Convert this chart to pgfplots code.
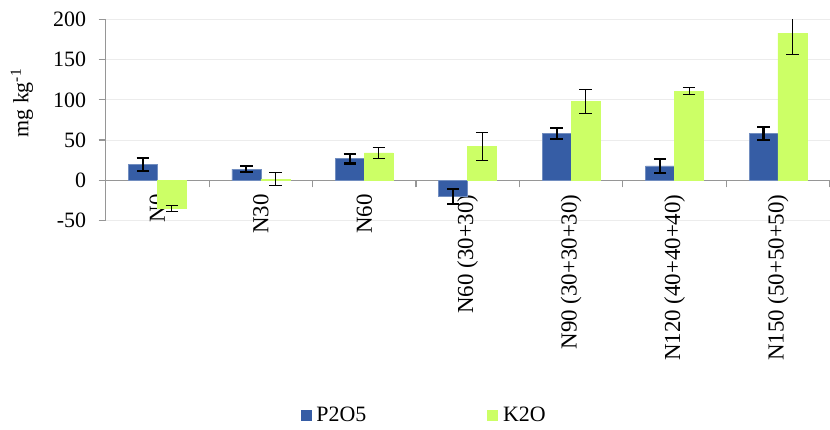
\documentclass[border=0pt]{standalone}
\usepackage{fontspec}
\setmainfont{Liberation Serif}
\usepackage{pgfplots}
\pgfplotsset{compat=1.18}
\definecolor{pblue}{RGB}{54,93,165}
\definecolor{kgreen}{RGB}{204,255,102}
\definecolor{axgray}{RGB}{150,150,150}
\definecolor{grgray}{RGB}{236,236,236}
\newcommand{\xl}[1]{#1\hspace*{14bp}}

\pgfplotstableread{
x y e
0 20 8
1 14 4
2 27 6
3 -20 9
4 58 7
5 18 8.5
6 58 8
}\ptable
\pgfplotstableread{
x y e
0 -35 4
1 1.5 8
2 34 6.5
3 42 17.5
4 98 15
5 111 4
6 183 26
}\ktable

\begin{document}
\begin{tikzpicture}
\begin{axis}[
  set layers=standard,
  at={(0bp,0bp)}, anchor=south west,
  scale only axis, width=724bp, height=201bp,
  ymin=-50, ymax=200, ytick={-50,0,50,100,150,200},
  xmin=-0.5, xmax=6.5,
  axis y line*=left, axis x line*=middle,
  axis line style={axgray, line width=1.2bp, -},
  tick align=outside,
  major tick length=7bp,
  tick style={axgray, line width=1.2bp},
  xtick={-0.5,0.5,...,6.5},
  xticklabels={,,,,,,,,},
  extra x ticks={0,1,2,3,4,5,6},
  extra x tick labels={\xl{N0},\xl{N30},\xl{N60},\xl{N60 (30+30)},\xl{N90 (30+30+30)},\xl{N120 (40+40+40)},\xl{N150 (50+50+50)}},
  extra x tick style={major tick length=0bp},
  ticklabel style={/pgfplots/on layer=axis foreground},
  xticklabel style={rotate=90, anchor=east, font=\rmfamily\fontsize{23}{25}\selectfont, inner sep=0bp},
  yticklabel={\pgfmathprintnumber{\tick}\hspace*{12.5bp}},
  yticklabel style={font=\rmfamily\fontsize{22}{24}\selectfont, inner sep=0bp},
  /pgf/number format/assume math mode=true,
  ymajorgrids, grid style={grgray, line width=1bp},
  ylabel={mg kg\textsuperscript{-1}},
  ylabel style={at={(axis description cs:-0.1156,0.584)}, anchor=center, font=\rmfamily\fontsize{22}{24}\selectfont},
  ybar=0pt, bar width=0.28,
  clip=true,
  legend style={at={(axis description cs:0.440,-0.968)}, anchor=center, draw=none, fill=none,
    legend columns=2, font=\rmfamily\fontsize{22}{24}\selectfont,
    /tikz/every even column/.append style={column sep=119bp},
    /tikz/every odd column/.append style={column sep=3bp}},
]
\addplot[fill=pblue, draw=pblue!70!white, line width=0.6bp,
  legend image code/.code={\fill[pblue] (0bp,-5bp) rectangle (10bp,5bp);},
  error bars/.cd, y dir=both, y explicit,
  error bar style={line width=2.2bp, black, solid},
  error mark options={line width=2.2bp, black, mark size=6.2bp, rotate=90}]
  table[x=x, y=y, y error=e] {\ptable};
\addplot[fill=kgreen, draw=kgreen, line width=0.6bp,
  legend image code/.code={\fill[kgreen] (0bp,-5bp) rectangle (10bp,5bp);},
  error bars/.cd, y dir=both, y explicit,
  error bar style={line width=1bp, black, solid},
  error mark options={line width=1bp, black, mark size=6.2bp, rotate=90}]
  table[x=x, y=y, y error=e] {\ktable};
\legend{P2O5,K2O}
\end{axis}
\pgfresetboundingbox
\useasboundingbox (-105.7bp,-209.5bp) rectangle (724.3bp,220.5bp);
\end{tikzpicture}
\end{document}
